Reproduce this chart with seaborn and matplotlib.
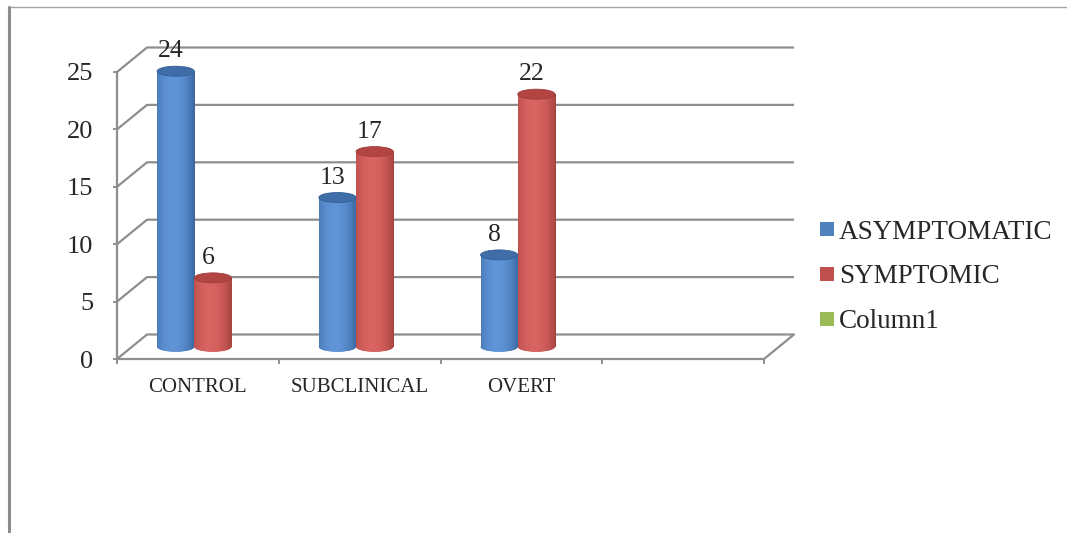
import numpy as np
import pandas as pd
import matplotlib
matplotlib.use("Agg")
import matplotlib.pyplot as plt
import matplotlib.colors as mcolors
from matplotlib.patches import Ellipse, Rectangle
from matplotlib.lines import Line2D
import seaborn as sns

# ---- data -------------------------------------------------------------
categories = ["CONTROL", "SUBCLINICAL", "OVERT", ""]
series = ["ASYMPTOMATIC", "SYMPTOMIC", "Column1"]
asymptomatic = [24, 13, 8, np.nan]
symptomic = [6, 17, 22, np.nan]
column1 = [np.nan, np.nan, np.nan, np.nan]
y_ticks = [0, 5, 10, 15, 20, 25]

# ---- style ------------------------------------------------------------
colors = ["#4F81BD", "#C0504D", "#9BBB59"]
body_dark = {0: "#345F97", 1: "#A03E3B"}
body_light = {0: "#6095D8", 1: "#D96461"}
cap_color = {0: "#3E6DA8", 1: "#B24441"}
grid_col = "#8E8E8E"

sns.set_style("white")
plt.rcParams["font.family"] = ["Liberation Serif", "DejaVu Serif"]

W, H = 1067, 533
fig = plt.figure(figsize=(W / 100, H / 100), dpi=100)

# pixel geometry of the front plane
px_cat = 161.75      # pixels per category slot
px_unit = 11.48      # pixels per value unit
x0_px, y0_px = 117, 359
right_px, top_px = 800, 20
ax = fig.add_axes([x0_px / W, (H - y0_px) / H,
                   (right_px - x0_px) / W, (y0_px - top_px) / H])

# depth offset of the back wall (in data units)
dx = 30 / px_cat
dy = 24.5 / px_unit
eh = 10 / px_unit    # height of the elliptical cylinder caps

df = pd.DataFrame({
    "category": categories * len(series),
    "series": np.repeat(series, len(categories)),
    "value": asymptomatic + symptomic + column1,
})

sns.barplot(data=df, x="category", y="value", hue="series",
            order=categories, hue_order=series, palette=colors,
            width=0.69, errorbar=None, legend=False, saturation=1, ax=ax)
ax.set_xlabel("")
ax.set_ylabel("")

n_slots = len(categories)
xl, xr = -0.5, n_slots - 0.5

# back wall gridlines with their diagonal connectors on the side wall
for v in y_ticks:
    ax.plot([xl, xl + dx, xr + dx], [v, v + dy, v + dy],
            color=grid_col, lw=1.6, zorder=1, solid_capstyle="butt")
# floor edge on the right
ax.plot([xr, xr + dx], [0, dy], color=grid_col, lw=1.6, zorder=1)


def gradient_image(dark, light, n=96):
    t = np.linspace(0, 1, n)
    f = np.clip(1 - ((t - 0.42) / 0.62) ** 2, 0, 1)
    d = np.array(mcolors.to_rgb(dark))
    l = np.array(mcolors.to_rgb(light))
    return (d + (l - d) * f[:, None])[None, :, :]


rgb_series = [np.array(mcolors.to_rgb(c)) for c in colors]

# turn each flat bar into a shaded cylinder set back half the depth
for patch in list(ax.patches):
    if not isinstance(patch, Rectangle):
        continue
    h = patch.get_height()
    if not np.isfinite(h) or h <= 0:
        continue
    fc = np.array(patch.get_facecolor()[:3])
    s = int(np.argmin([np.abs(fc - c).sum() for c in rgb_series]))
    w = patch.get_width()
    x = patch.get_x() + dx / 2
    base = dy / 2
    patch.set_x(x)
    patch.set_y(base)
    patch.set_edgecolor("none")
    patch.set_zorder(3)
    cx = x + w / 2
    img = gradient_image(body_dark[s], body_light[s])

    bottom = Ellipse((cx, base), w, eh, facecolor=colors[s],
                     edgecolor="none", zorder=2.9)
    ax.add_patch(bottom)
    ax.imshow(img, extent=[x, x + w, base - eh, base + eh], aspect="auto",
              interpolation="bilinear", clip_path=bottom, zorder=2.95)
    ax.imshow(img, extent=[x, x + w, base, base + h], aspect="auto",
              interpolation="bilinear", clip_path=patch, zorder=3.05)

    top = base + h
    cap = Ellipse((cx, top), w, eh, facecolor=cap_color[s],
                  edgecolor=body_dark[s], lw=0.6, zorder=3.2)
    ax.add_patch(cap)

    ax.text(cx - 5 / px_cat, top + eh / 2 + 9 / px_unit, f"{h:g}",
            ha="center", va="baseline", fontsize=18.5, zorder=4)

# axes, ticks and labels
ax.set_xlim(xl, xl + (right_px - x0_px) / px_cat)
ax.set_ylim(0, (y0_px - top_px) / px_unit)
for side in ["top", "right"]:
    ax.spines[side].set_visible(False)
for side in ["left", "bottom"]:
    ax.spines[side].set_color(grid_col)
    ax.spines[side].set_linewidth(1.6)
ax.spines["left"].set_bounds(0, y_ticks[-1])
ax.spines["bottom"].set_bounds(xl, xr)

ax.set_yticks(y_ticks)
ax.set_yticklabels([str(v) for v in y_ticks], fontsize=19)
ax.tick_params(axis="y", length=3, width=1.4, color=grid_col, pad=14,
               left=True)

ax.set_xticks(range(n_slots))
ax.set_xticklabels(categories, fontsize=15)
ax.set_xticks(np.arange(xl, xr + 0.01, 1.0), minor=True)
ax.tick_params(axis="x", which="major", length=0, pad=13.5)
ax.tick_params(axis="x", which="minor", length=3.5, width=1.4,
               color=grid_col, bottom=True)

# legend on the right
legend_rows = [229, 273.5, 319]
for label, col, cy in zip(series, colors, legend_rows):
    fig.add_artist(Rectangle((820 / W, 1 - (cy + 7) / H), 14 / W, 14 / H,
                             transform=fig.transFigure, facecolor=col,
                             edgecolor="none"))
    fig.text(839 / W, 1 - (cy + 9.5) / H, label, fontsize=19.5,
             va="baseline", ha="left")

# chart frame
fig.add_artist(Line2D([8 / W, 1], [1 - 7 / H, 1 - 7 / H],
                      transform=fig.transFigure, color="#A6A6A6", lw=1.0))
fig.add_artist(Line2D([8.5 / W, 8.5 / W], [0, 1 - 7 / H],
                      transform=fig.transFigure, color="#8C8C8C", lw=2.2))

fig.savefig("out.png", dpi=100)
